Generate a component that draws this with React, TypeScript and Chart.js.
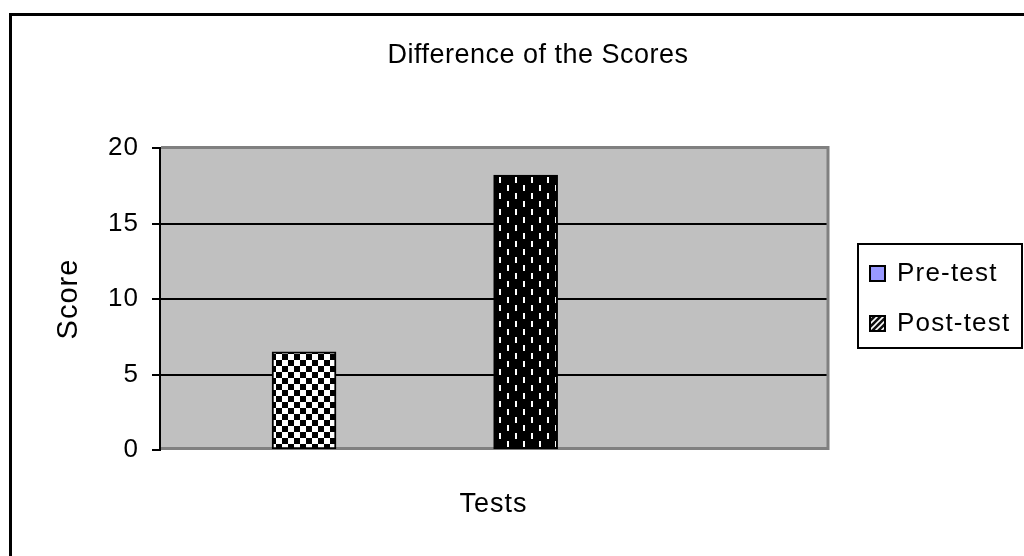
import { useEffect, useRef } from 'react';
import { Chart, registerables } from 'chart.js';

Chart.register(...registerables);

const chartTitle = 'Difference of the Scores';
const seriesLabels = ['Pre-test', 'Post-test'];
const seriesValues = [6.5, 18.2];
const seriesPositions = [1, 2];
const xTitle = 'Tests';
const yTitle = 'Score';
const yMin = 0;
const yMax = 20;
const yStep = 5;
const legendSwatches = ['#9999FF', 'stripes'];

const FONT = "'Liberation Sans', Arial, sans-serif";

function makePattern(w: number, h: number, draw: (g: CanvasRenderingContext2D) => void): CanvasPattern {
  const c = document.createElement('canvas');
  c.width = w;
  c.height = h;
  const g = c.getContext('2d') as CanvasRenderingContext2D;
  draw(g);
  return g.createPattern(c, 'repeat') as CanvasPattern;
}

function checkerPattern() {
  return makePattern(12, 12, (g) => {
    g.fillStyle = '#fff';
    g.fillRect(0, 0, 12, 12);
    g.fillStyle = '#000';
    g.fillRect(0, 0, 6, 6);
    g.fillRect(6, 6, 6, 6);
  });
}

function dashPattern() {
  return makePattern(16, 16, (g) => {
    g.fillStyle = '#000';
    g.fillRect(0, 0, 16, 16);
    g.fillStyle = '#fff';
    g.fillRect(3, 1, 2, 6);
    g.fillRect(11, 9, 2, 6);
  });
}

function stripePattern() {
  return makePattern(6, 6, (g) => {
    g.fillStyle = '#111';
    g.fillRect(0, 0, 6, 6);
    g.strokeStyle = '#fff';
    g.lineWidth = 1.6;
    g.beginPath();
    g.moveTo(-1, 7);
    g.lineTo(7, -1);
    g.moveTo(-4, 4);
    g.lineTo(4, -4);
    g.moveTo(2, 10);
    g.lineTo(10, 2);
    g.stroke();
  });
}

function setSpacing(ctx: any, px: number) {
  if ('letterSpacing' in ctx) ctx.letterSpacing = `${px}px`;
}

export default function App() {
  const ref = useRef<HTMLCanvasElement>(null);

  useEffect(() => {
    document.body.style.margin = '0';
    const canvas = ref.current;
    if (!canvas) return;
    const fills = [checkerPattern(), dashPattern()];
    const stripes = stripePattern();

    const decor = {
      id: 'decor',
      beforeLayout(chart: any) {
        setSpacing(chart.ctx, 1);
      },
      beforeDraw(chart: any) {
        const ctx = chart.ctx as CanvasRenderingContext2D;
        setSpacing(ctx, 1);
        const { chartArea } = chart;
        ctx.save();
        ctx.fillStyle = '#fff';
        ctx.fillRect(0, 0, chart.width, chart.height);
        ctx.strokeStyle = '#000';
        ctx.lineWidth = 3;
        ctx.strokeRect(10.5, 14.5, 1200, 800);
        ctx.fillStyle = '#c0c0c0';
        ctx.fillRect(chartArea.left, chartArea.top, chartArea.right - chartArea.left, chartArea.bottom - chartArea.top);
        ctx.fillStyle = '#000';
        ctx.font = `27px ${FONT}`;
        setSpacing(ctx, 0.5);
        ctx.textAlign = 'center';
        ctx.textBaseline = 'middle';
        ctx.fillText(chartTitle, 538, 56);
        ctx.restore();
      },
      beforeDatasetsDraw(chart: any) {
        const ctx = chart.ctx as CanvasRenderingContext2D;
        const { left, right, top, bottom } = chart.chartArea;
        ctx.save();
        ctx.strokeStyle = '#808080';
        ctx.lineWidth = 3;
        ctx.beginPath();
        ctx.moveTo(left + 1, top - 0.5);
        ctx.lineTo(right + 1, top - 0.5);
        ctx.lineTo(right + 1, bottom - 1.5);
        ctx.lineTo(left + 1, bottom - 1.5);
        ctx.stroke();
        ctx.restore();
      },
      afterDraw(chart: any) {
        const ctx = chart.ctx as CanvasRenderingContext2D;
        ctx.save();
        ctx.fillStyle = '#fff';
        ctx.fillRect(858, 244, 164, 104);
        ctx.strokeStyle = '#000';
        ctx.lineWidth = 2;
        ctx.strokeRect(858, 244, 164, 104);
        ctx.font = `26px ${FONT}`;
        setSpacing(ctx, 1.2);
        ctx.textAlign = 'left';
        ctx.textBaseline = 'middle';
        seriesLabels.forEach((label, i) => {
          const y = 273 + i * 50;
          ctx.fillStyle = legendSwatches[i] === 'stripes' ? stripes : legendSwatches[i];
          ctx.fillRect(870, y - 7, 15, 15);
          ctx.lineWidth = 2;
          ctx.strokeStyle = '#000';
          ctx.strokeRect(870, y - 7, 15, 15);
          ctx.fillStyle = '#000';
          ctx.fillText(label, 897, y + 1);
        });
        ctx.restore();
      },
    };

    const chart = new Chart(canvas, {
      type: 'bar',
      data: {
        datasets: seriesLabels.map((label, i) => ({
          label,
          data: [{ x: seriesPositions[i], y: seriesValues[i] }],
          backgroundColor: fills[i],
          borderColor: '#000',
          borderWidth: 2,
          borderSkipped: false,
          barThickness: 64,
          grouped: false,
        })),
      },
      options: {
        animation: false,
        responsive: false,
        devicePixelRatio: 1,
        layout: { padding: { left: 40, top: 148, right: 197, bottom: 6 } },
        plugins: { legend: { display: false }, title: { display: false }, tooltip: { enabled: false } },
        scales: {
          x: {
            type: 'linear',
            offset: false,
            min: 0.35,
            max: 3.36,
            ticks: { display: false },
            grid: { display: false },
            border: { display: false },
            title: { display: true, text: xTitle, color: '#000', font: { family: FONT, size: 27 }, padding: { top: 0, bottom: 29 } },
            afterFit: (s: any) => { s.height = 100; },
          },
          y: {
            min: yMin,
            max: yMax,
            ticks: { stepSize: yStep, color: '#000', font: { family: FONT, size: 26 }, padding: 13 },
            grid: {
              color: (c: any) => (c.tick && c.tick.value > yMin && c.tick.value < yMax ? '#000' : 'rgba(0,0,0,0)'),
              lineWidth: 2,
              tickLength: 8,
              tickColor: '#000',
              tickWidth: 2,
            },
            border: { display: true, color: '#000', width: 2 },
            title: { display: true, text: yTitle, color: '#000', font: { family: FONT, size: 29 }, padding: { top: 12, bottom: 0 } },
            afterFit: (s: any) => { s.width = 120; },
          },
        },
      },
      plugins: [decor],
    } as any);

    return () => chart.destroy();
  }, []);

  return (
    <div style={{ width: 1024, height: 556 }}>
      <canvas ref={ref} width={1024} height={556} style={{ display: 'block' }} />
    </div>
  );
}
